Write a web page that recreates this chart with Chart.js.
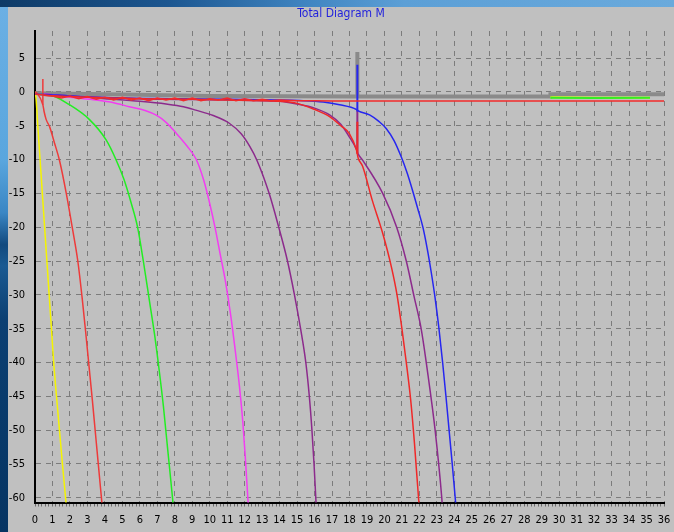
<!DOCTYPE html>
<html>
<head>
<meta charset="utf-8">
<title>Total Diagram M</title>
<script src="https://cdn.jsdelivr.net/npm/chart.js@4.4.0/dist/chart.umd.min.js"></script>
<style>
    html, body { margin: 0; padding: 0; }
    body {
        width: 674px; height: 532px; overflow: hidden; position: relative;
        background: linear-gradient(to bottom, #6cb0e4 0%, #5aa6de 30%, #3a86c4 40%, #11497e 46%, #1a5a92 50%, #0b3f72 60%, #063462 100%);
    }
    #topStrip {
        position: absolute; left: 0; top: 0; width: 674px; height: 7px;
        background: linear-gradient(to right, #0e3a66 0%, #1c5690 25%, #3f84c0 45%, #5c9fd6 60%, #6aaadc 100%);
    }
    #panel {
        position: absolute; left: 8px; top: 7px; width: 666px; height: 525px;
        background: #c0c0c0;
    }
    #chart { display: block; }
</style>
</head>
<body>
<div id="topStrip"></div>
<div id="panel"><canvas id="chart" width="666" height="525"></canvas></div>
<script>
// axis ranges / tick labels
const xTickValues = [0, 36];
const yTickValues = [-60, 5];

// near-zero gray band, steps up at 29.5
const grayX = [0, 5, 10, 18.4, 29.5, 29.5, 36];
const grayY = [-0.2, -0.4, -0.6, -0.7, -0.7, -0.35, -0.35];
const graySpikeX = [18.45, 18.45];
const graySpikeY = [-0.7, 5.9];

const yellowX = [0, 0.06, 0.16, 0.29, 0.42, 0.55, 0.68, 0.81, 0.94, 1.07, 1.23, 1.4, 1.57, 1.75, 1.8];
const yellowY = [0, -1, -5, -10, -15, -20, -25, -30, -35, -40, -45, -50, -55, -60, -61.4];
const yellowTailX = [29.5, 32, 35.2];
const yellowTailY = [-0.8, -0.85, -0.85];

const red1X = [0, 0.1, 0.45, 0.52, 0.64, 0.83, 1.12, 1.4, 1.79, 2.13, 2.45, 2.7, 2.9, 3.09, 3.28, 3.46, 3.64, 3.82, 3.86];
const red1Y = [0, -0.15, -1.9, -2.9, -4.1, -5.1, -7.6, -10.1, -15, -20, -25, -30.5, -35.5, -40.5, -45.5, -50.5, -55.5, -60.5, -61.5];
const red1SpikeX = [0.45, 0.45];
const red1SpikeY = [1.9, -1.9];

const greenX = [0.3, 0.83, 1.97, 3.12, 4.07, 4.65, 5.1, 5.5, 5.87, 6.2, 6.55, 6.85, 7.1, 7.35, 7.6, 7.87, 7.92];
const greenY = [-0.4, -0.45, -1.9, -4.1, -7.1, -10.1, -13, -16.4, -20, -25, -30.9, -36, -41, -46.5, -53, -60, -61.5];
const greenTailX = [29.5, 32, 35.2];
const greenTailY = [-0.85, -0.9, -0.85];

const magentaX = [0.5, 0.83, 2.0, 3.5, 4.5, 5.4, 6.3, 6.94, 7.5, 8.08, 8.7, 9.23, 9.65, 10.0, 10.3, 10.6, 10.9, 11.2, 11.45, 11.7, 11.9, 12.05, 12.18, 12.22];
const magentaY = [-0.3, -0.4, -0.8, -1.2, -1.6, -2.2, -2.75, -3.45, -4.5, -6.1, -8.0, -10, -13, -16.5, -20, -24, -28, -33, -38, -43.5, -49, -54.5, -60, -61.5];

const purple1X = [0.5, 2, 4, 6, 7.5, 8.5, 9.2, 10.2, 11.1, 11.8, 12.3, 12.7, 13.4, 13.95, 14.45, 14.85, 15.2, 15.5, 15.7, 15.85, 15.97, 16.07, 16.1];
const purple1Y = [-0.3, -0.6, -1.0, -1.4, -1.8, -2.2, -2.7, -3.5, -4.6, -6.2, -8.1, -10.1, -15, -20, -25, -30, -35, -40, -45, -50, -55, -60, -61.5];

const purple2X = [0.5, 6, 11, 14, 15, 16, 16.86, 17.5, 18.0, 18.4, 18.5, 18.75, 19.9, 20.7, 21.25, 21.7, 22.1, 22.5, 22.9, 23.28, 23.32];
const purple2Y = [-0.5, -1.0, -1.2, -1.4, -1.8, -2.4, -3.4, -4.8, -6.7, -8.5, -9.2, -10.1, -15, -20, -25, -30.3, -35, -42, -50, -60, -61.5];
const purple2SpikeX = [18.45, 18.45];
const purple2SpikeY = [-9.0, -2.7];

const red2X = [0.5, 3, 6, 9, 11, 13, 14, 15, 16, 16.86, 17.5, 18.0, 18.4, 18.5, 18.75, 19.3, 19.9, 20.4, 20.72, 21.0, 21.25, 21.5, 21.72, 21.95, 22.0];
const red2Y = [-0.5, -0.8, -1.0, -1.1, -1.2, -1.3, -1.4, -1.7, -2.6, -3.65, -5.0, -6.2, -8.6, -9.8, -11, -16, -20.9, -25.9, -30, -35, -40, -45.5, -52, -60, -61.5];
const red2SpikeX = [18.45, 18.45];
const red2SpikeY = [-9.2, -4.4];

const redFlatX = [0, 1, 1.5, 2, 2.5, 3, 3.5, 4, 4.5, 5, 5.5, 6, 6.5, 7, 7.5, 8, 8.5, 9, 9.5, 10, 10.5, 11, 11.5, 12, 12.5, 13, 13.5, 14, 15, 16, 17, 18.4, 22, 26, 30, 36];
const redFlatY = [-0.3, -0.6, -0.9, -0.6, -1.0, -0.7, -1.1, -0.8, -1.2, -0.8, -1.2, -0.9, -1.3, -0.9, -1.2, -0.9, -1.3, -0.9, -1.3, -1.0, -1.2, -0.9, -1.3, -1.0, -1.3, -1.1, -1.3, -1.2, -1.3, -1.3, -1.33, -1.33, -1.33, -1.33, -1.33, -1.33];

const blueX = [0, 2, 5, 8, 11, 14, 15.14, 16.5, 17.43, 18.4, 18.5, 19.15, 19.7, 20.1, 20.55, 20.96, 21.3, 21.6, 21.9, 22.2, 22.45, 22.68, 22.9, 23.12, 23.33, 23.52, 23.7, 23.88, 24.05, 24.1];
const blueY = [-0.3, -0.6, -0.9, -1.0, -1.1, -1.2, -1.28, -1.5, -1.9, -2.6, -2.8, -3.4, -4.4, -5.4, -7.2, -9.6, -12, -14.5, -17.2, -20, -23.2, -26.7, -30.5, -35, -40, -45, -50, -55, -60, -61.5];
const blueSpikeX = [18.45, 18.45];
const blueSpikeY = [4.0, -2.9];

const FONT = "'Liberation Sans Narrow', 'DejaVu Sans Condensed', Arial, sans-serif";

function pts(xs, ys) {
    return xs.map((x, i) => ({ x: x, y: ys[i] }));
}

// smooth: monotone curve through the read points; straight otherwise
function line(xs, ys, color, width, order, smooth) {
    return {
        data: pts(xs, ys),
        borderColor: color,
        borderWidth: width,
        showLine: true,
        pointRadius: 0,
        tension: smooth ? 0.4 : 0,
        cubicInterpolationMode: smooth ? 'monotone' : 'default',
        order: order,
    };
}

const isWhole = v => Math.abs(v - Math.round(v)) < 1e-6;

new Chart(document.getElementById('chart'), {
    type: 'scatter',
    data: {
        datasets: [
            line(redFlatX, redFlatY, '#f22a2a', 1.5, 0, false),
            line(red2X, red2Y, '#f02828', 1.5, 1, true),
            line(red2SpikeX, red2SpikeY, '#f02828', 2, 1, false),
            line(blueX, blueY, '#2626f0', 1.5, 2, true),
            line(blueSpikeX, blueSpikeY, '#2626f0', 2, 2, false),
            line(red1X, red1Y, '#ee3a3a', 1.5, 3, true),
            line(red1SpikeX, red1SpikeY, '#ee3a3a', 1.5, 3, false),
            line(yellowX, yellowY, '#f4f400', 1.5, 4, true),
            line(greenX, greenY, '#22ee22', 1.5, 5, true),
            line(magentaX, magentaY, '#f23cf2', 1.5, 6, true),
            line(purple1X, purple1Y, '#8c2a8c', 1.5, 7, true),
            line(purple2X, purple2Y, '#8c2a8c', 1.5, 8, true),
            line(purple2SpikeX, purple2SpikeY, '#8c2a8c', 2, 8, false),
            line(greenTailX, greenTailY, '#33ee22', 2, 9, false),
            line(yellowTailX, yellowTailY, '#eeee10', 2, 10, false),
            line(grayX, grayY, '#8a8a8a', 4, 11, false),
            line(graySpikeX, graySpikeY, '#8a8a8a', 4, 11, false),
        ],
    },
    options: {
        responsive: false,
        animation: false,
        layout: { padding: 0 },
        plugins: {
            legend: { display: false },
            tooltip: { enabled: false },
            title: {
                display: true,
                text: 'Total Diagram M',
                color: '#1f1fdd',
                font: { family: FONT, size: 12, weight: 'normal' },
                padding: { top: 0, bottom: 9.6 },
            },
        },
        scales: {
            x: {
                type: 'linear',
                min: xTickValues[0],
                max: xTickValues[1],
                afterFit: s => {
                    s.height = 29.5;
                    s.paddingLeft = 0;
                    s.paddingRight = 10;
                },
                border: { display: true, color: '#000', width: 2, dash: [5, 5] },
                grid: {
                    color: c => (c.tick && isWhole(c.tick.value) ? '#7c7c7c' : 'rgba(0,0,0,0)'),
                    tickColor: '#6a6a6a',
                    tickLength: 4,
                    lineWidth: 1,
                },
                ticks: {
                    stepSize: 0.2,
                    autoSkip: false,
                    maxRotation: 0,
                    padding: 7,
                    color: '#000',
                    font: { family: FONT, size: 11 },
                    callback: v => (isWhole(v) ? String(Math.round(v)) : ''),
                },
            },
            y: {
                type: 'linear',
                min: -60.7,
                max: 9,
                afterFit: s => { s.width = 27; },
                border: { display: true, color: '#000', width: 2, dash: [5, 5] },
                grid: { color: '#7c7c7c', lineWidth: 1, drawTicks: false },
                ticks: {
                    stepSize: 5,
                    includeBounds: false,
                    padding: 10,
                    color: '#000',
                    font: { family: FONT, size: 11 },
                    callback: v => (v >= yTickValues[0] && v <= yTickValues[1] ? String(v) : ''),
                },
            },
        },
    },
});
</script>
</body>
</html>
